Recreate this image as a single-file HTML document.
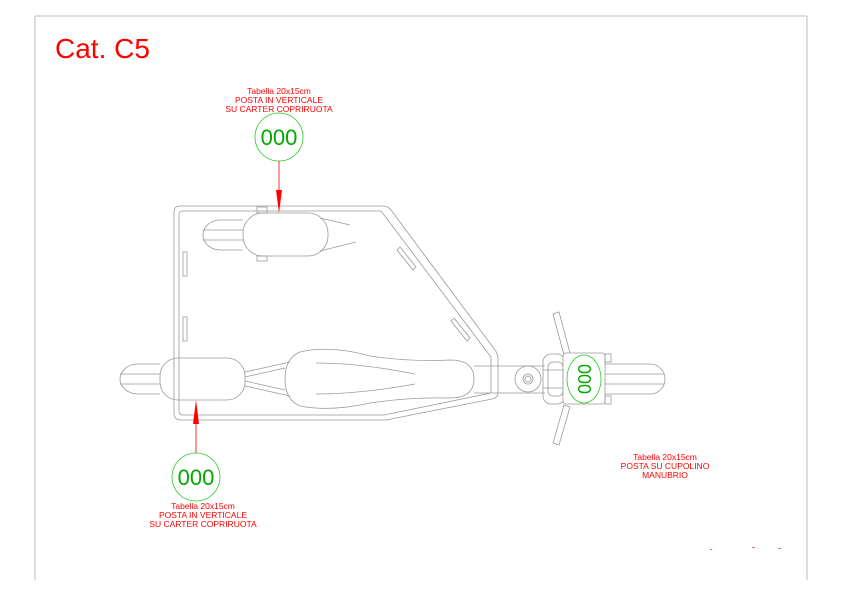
<!DOCTYPE html>
<html><head><style>
body{margin:0;background:#fff;}
svg{display:block;}
text{font-family:"Liberation Sans",sans-serif;}
</style></head><body>
<svg width="842" height="595" viewBox="0 0 842 595" xmlns="http://www.w3.org/2000/svg">
<g fill="none" stroke="#aaa" stroke-width="0.8">
<line x1="35" y1="16" x2="807" y2="16"/>
<line x1="35" y1="16" x2="35" y2="580"/>
<line x1="807" y1="16" x2="807" y2="580"/>
</g>
<text x="55" y="58" fill="#f00" font-size="28">Cat. C5</text>
<g fill="#f00" font-size="8.5" text-anchor="middle">
<text x="279" y="94">Tabella 20x15cm</text>
<text x="279" y="103">POSTA IN VERTICALE</text>
<text x="279" y="112">SU CARTER COPRIRUOTA</text>
<text x="203" y="509">Tabella 20x15cm</text>
<text x="203" y="518">POSTA IN VERTICALE</text>
<text x="203" y="527">SU CARTER COPRIRUOTA</text>
<text x="665" y="460">Tabella 20x15cm</text>
<text x="665" y="469">POSTA SU CUPOLINO</text>
<text x="665" y="478">MANUBRIO</text>
</g>
<g fill="none" stroke="#999" stroke-width="0.8">
<!-- frame -->
<path d="M180 206 H383 Q388 206 391 210 L495 350 Q498 354 498 358 V392 Q498 398 492 399 L386 420 H181 Q174 420 174 413 V212 Q174 206 180 206Z"/>
<path d="M183 211 H381 L491 357 V393 L384 415 H183 Q179 415 179 411 V215 Q179 211 183 211Z"/>
<rect x="183" y="252" width="4" height="24"/>
<rect x="183" y="317" width="4" height="24"/>
<path d="M397 250 l3 -3 l16 20 l-3 3z"/>
<path d="M451 321 l3 -3 l16 20 l-3 3z"/>
<!-- top wheel -->
<path d="M243 220 H220 A17 15 0 0 0 220 250 H243"/>
<line x1="203" y1="230" x2="243" y2="230"/><line x1="203" y1="240" x2="243" y2="240"/>
<rect x="243" y="213" width="85" height="43" rx="20"/>
<path d="M320 218 L350 225 M320 251 L356 242"/>
<rect x="257" y="207" width="10" height="6"/><rect x="257" y="256" width="10" height="5"/>
<!-- bottom wheel -->
<path d="M160 364 H138 A18 15 0 0 0 138 394 H160"/>
<line x1="120" y1="374" x2="160" y2="374"/><line x1="120" y1="384" x2="160" y2="384"/>
<rect x="160" y="358" width="85" height="42" rx="18"/>
<path d="M245 372 L290 362 M245 386 L290 396 M245 377 L285 368 M245 381 L285 390"/>
<!-- seat -->
<path d="M300 352 Q330 345 370 356 Q410 362 450 360 Q474 360 474 379 Q474 398 450 398 Q410 397 370 403 Q330 412 300 406 Q285 400 285 379 Q285 358 300 352Z"/>
<path d="M316 363 Q360 363 415 374 M316 394 Q360 394 415 384"/>
<!-- bar -->
<path d="M474 366 H545 M474 393 H545"/>
<circle cx="528" cy="379" r="13"/><circle cx="528" cy="379" r="5"/><circle cx="528" cy="379" r="3"/>
<!-- handlebar -->
<path d="M553 314 l6 -2 l11 41 l-6 2z"/>
<path d="M564 405 l6 2 l-11 38 l-6 -2z"/>
<rect x="543" y="354" width="22" height="50" rx="8"/>
<rect x="548" y="362" width="15" height="34" rx="5"/>
<line x1="543" y1="370" x2="605" y2="370"/><line x1="543" y1="388" x2="605" y2="388"/>
<rect x="563" y="353" width="42" height="51" rx="3" fill="#fff"/>
<path d="M605 364 H650 A15 15 0 0 1 650 394 H605"/>
<line x1="605" y1="374" x2="664" y2="374"/><line x1="605" y1="384" x2="664" y2="384"/>
<rect x="605" y="354" width="6" height="8"/><rect x="605" y="396" width="6" height="8"/>
</g>
<ellipse cx="584" cy="379" rx="17" ry="24" fill="none" stroke="#2c2" stroke-width="0.8"/>
<text x="584" y="379" fill="#0a0" font-size="18" text-anchor="middle" dominant-baseline="central" transform="rotate(90 584 379)">000</text>
<!-- labels circles -->
<circle cx="279" cy="137" r="24" fill="none" stroke="#2c2" stroke-width="0.8"/>
<text x="279" y="145" fill="#0a0" font-size="22" text-anchor="middle">000</text>
<circle cx="196" cy="477" r="24" fill="none" stroke="#2c2" stroke-width="0.8"/>
<text x="196" y="485" fill="#0a0" font-size="22" text-anchor="middle">000</text>
<!-- arrows -->
<line x1="279" y1="161" x2="279" y2="195" stroke="#f00" stroke-width="0.8"/>
<polygon points="276,190 282,190 279,213" fill="#f00"/>
<line x1="196" y1="453" x2="196" y2="420" stroke="#f00" stroke-width="0.8"/>
<polygon points="193,424 199,424 196,400" fill="#f00"/>
<g fill="#f66"><rect x="710" y="549" width="2" height="1"/><rect x="752" y="547" width="3" height="1"/><rect x="778" y="548" width="3" height="1"/></g>
</svg>
</body></html>
